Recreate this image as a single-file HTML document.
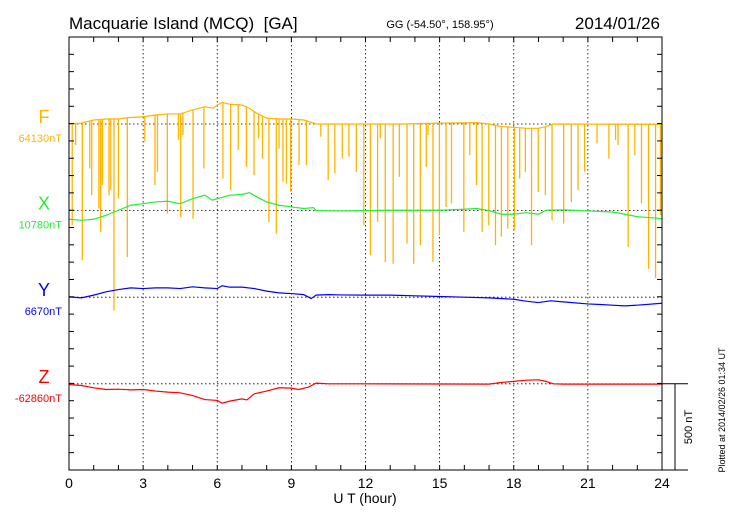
<!DOCTYPE html>
<html><head><meta charset="utf-8"><style>
body{margin:0;background:#fff;}
svg{display:block;font-family:"Liberation Sans",sans-serif;}
</style></head><body>
<svg id="chart" width="730" height="520" viewBox="0 0 730 520" xmlns="http://www.w3.org/2000/svg">
<text x="69" y="29" font-size="17" fill="#000">Macquarie Island (MCQ)&#160;&#160;[GA]</text>
<text x="440" y="28" font-size="11" text-anchor="middle" fill="#000">GG (-54.50°, 158.95°)</text>
<text x="660" y="29" font-size="17" text-anchor="end" fill="#000">2014/01/26</text>
<text x="365" y="503" font-size="14" text-anchor="middle" fill="#000">U T (hour)</text>
<text transform="translate(692,427) rotate(-90)" font-size="11" text-anchor="middle" fill="#000">500 nT</text>
<text transform="translate(725,410) rotate(-90)" font-size="9" text-anchor="middle" fill="#000">Plotted at 2014/02/26 01:34 UT</text>
<g id="grid"></g>
<g id="series"></g>
<g id="axes"></g>
</svg>
<script>
const hours=[0,3,6,9,12,15,18,21,24];
const fT=[0,0.5,1,1.5,2,2.4,3,3.5,4,4.5,5,5.5,5.83,6,6.2,6.5,7,7.3,7.6,8,8.5,9,9.5,10,13.5,15,16.5,17,17.5,18,18.5,19,19.3,19.6,24];
const fV=[0,5,23,29,29,37,42,52,58,58,81,100,91,110,125,114,110,91,62,33,29,29,23,0,0,5,8,0,-15,-19,-25,-25,-15,0,-2];
const spikeT=[0.13,0.27,0.54,0.84,0.92,1.21,1.28,1.35,1.62,1.69,1.82,2.0,2.36,3.07,3.48,3.58,3.98,4.43,4.52,4.61,5.02,5.46,6.23,6.54,6.85,7.18,7.49,7.67,7.83,8.09,8.39,8.5,8.66,8.8,8.97,9.31,9.61,10.19,10.49,10.76,11.06,11.33,11.63,11.93,12.2,12.49,12.6,12.8,13.12,13.37,13.68,13.95,14.22,14.46,14.53,14.73,14.99,15.26,15.48,15.98,16.22,16.49,16.72,16.99,17.26,17.5,17.76,18.03,18.24,18.47,18.72,18.99,19.28,19.55,20.02,20.33,20.6,20.87,21.37,21.85,22.12,22.22,22.63,22.9,23.17,23.46,23.74,23.94];
const spikeMin=[-585,-122,-787,-257,-411,-488,-623,-353,-411,-382,-1077,-430,-768,-102,-353,-276,-517,-93,-537,-64,-546,-257,-315,-382,-150,-247,-295,-83,-199,-565,-633,-141,-334,-344,-392,-237,-237,-73,-324,-286,-199,-189,-276,-585,-758,-565,-83,-797,-807,-305,-691,-807,-700,-247,-64,-797,-643,-479,-459,-623,-180,-353,-623,-585,-700,-652,-604,-614,-315,-276,-700,-392,-411,-556,-575,-450,-382,-276,-112,-199,-93,-122,-710,-180,-459,-836,-890,-527];
const xT=[0,0.5,1,1.5,2,2.5,3,3.5,4,4.5,5,5.5,5.8,6,6.5,7,7.3,7.6,8,8.5,9,9.5,9.9,10,11,12,13,14,15,16,16.5,17,17.5,18,18.5,19,19.3,20,21,22,22.5,23,24];
const xV=[-50,-56,-50,-27,2,31,40,50,54,40,69,89,60,69,89,93,104,79,50,31,21,12,17,0,-2,0,2,2,2,8,12,0,-21,-21,-12,-21,2,4,-2,-8,-21,-35,-46];
const yT=[0,0.5,1,1.5,2,2.5,3,3.5,4,4.5,5,5.5,6,6.2,6.5,7,7.5,8,8.5,9,9.5,9.8,10,10.5,11,12,13,14,15,16,17,18,18.5,19,19.5,20,21,21.5,22,22.5,23,24];
const yV=[2,-4,12,31,44,54,50,54,54,50,60,54,50,66,58,58,50,35,25,21,15,-8,12,15,13,12,12,8,4,0,-4,-12,-23,-31,-21,-27,-39,-42,-46,-50,-46,-35];
const zT=[0,0.5,1,1.5,2,2.5,3,3.5,4,4.5,5,5.5,6,6.2,6.5,7,7.2,7.5,8,8.5,9,9.3,9.7,10,10.5,12,17,17.5,18,18.5,19,19.3,19.6,20,24];
const zV=[-4,-10,-23,-33,-31,-35,-33,-42,-48,-52,-68,-91,-96,-112,-100,-87,-93,-58,-42,-23,-25,-33,-19,4,0,0,-2,8,14,21,23,14,0,-2,-2];
const L=69,R=662,T=37,B=470,pxPerNT=17.32/100;
const NS='http://www.w3.org/2000/svg';
const xs=h=>L+(R-L)*h/24;
const ys=(base,v)=>base-v*pxPerNT;
function mk(tag,attrs,parent){const e=document.createElementNS(NS,tag);for(const k in attrs)e.setAttribute(k,attrs[k]);parent.appendChild(e);return e;}
const grid=document.getElementById('grid'),series=document.getElementById('series'),axes=document.getElementById('axes'),svg=document.getElementById('chart');
hours.forEach((h,i)=>{if(h>0&&h<24){const l=mk('line',{x1:xs(h),x2:xs(h),y1:T,y2:B,stroke:'#000','stroke-width':0.8,'stroke-dasharray':'1.5,2.5'},grid);

}
const t=mk('text',{x:xs(h),y:488,'font-size':14,'text-anchor':'middle',fill:'#000'},axes);t.textContent=h;

});
const comps=[{n:'F',c:'#ffb400',base:124,val:'64130nT',t:fT,v:fV},{n:'X',c:'#22ee33',base:210.6,val:'10780nT',t:xT,v:xV},{n:'Y',c:'#0000ff',base:297.2,val:'6670nT',t:yT,v:yV},{n:'Z',c:'#ff0000',base:383.8,val:'-62860nT',t:zT,v:zV}];
function interp(ts,vs,h){for(let i=1;i<ts.length;i++){if(h<=ts[i]){const f=(h-ts[i-1])/(ts[i]-ts[i-1]);return vs[i-1]+f*(vs[i]-vs[i-1]);}}return vs[vs.length-1];}
comps.forEach(c=>{
 const g=mk('line',{x1:L,x2:R,y1:c.base,y2:c.base,stroke:'#000','stroke-width':0.8,'stroke-dasharray':'1.5,2.5'},grid);
 
 
 const a=mk('text',{x:44,y:c.base-1,'font-size':18,'text-anchor':'middle',fill:c.c},axes);a.textContent=c.n;
 
 
 const b=mk('text',{x:62,y:c.base+18,'font-size':11,'text-anchor':'end',fill:c.c},axes);b.textContent=c.val;
 
 
 if(c.n==='F'){spikeT.forEach((h,i)=>{const top=interp(fT,fV,h);const s=mk('line',{x1:xs(h),x2:xs(h),y1:ys(c.base,top),y2:ys(c.base,spikeMin[i]),stroke:c.c,'stroke-width':1.3},series);
 
 });}
 const p=mk('polyline',{points:c.t.map((h,i)=>xs(h)+','+ys(c.base,c.v[i])).join(' '),fill:'none',stroke:c.c,'stroke-width':1.2},series);
 
 
});
const fr=mk('rect',{x:L,y:T,width:R-L,height:B-T,fill:'none',stroke:'#000','stroke-width':1},axes);


for(let h=1;h<24;h++){mk('line',{x1:xs(h),x2:xs(h),y1:B,y2:B-5,stroke:'#000'},axes);mk('line',{x1:xs(h),x2:xs(h),y1:T,y2:T+5,stroke:'#000'},axes);}
for(let k=1;k<25;k++){const y=B-k*17.32;mk('line',{x1:L,x2:L+5,y1:y,y2:y,stroke:'#000'},axes);mk('line',{x1:R,x2:R-5,y1:y,y2:y,stroke:'#000'},axes);}
mk('line',{x1:R,x2:688,y1:B,y2:B,stroke:'#000'},axes);
mk('line',{x1:R,x2:688,y1:383.8,y2:383.8,stroke:'#000'},axes);
const sb=mk('line',{x1:675,x2:675,y1:383.8,y2:B,stroke:'#000'},axes);


</script>
</body></html>
